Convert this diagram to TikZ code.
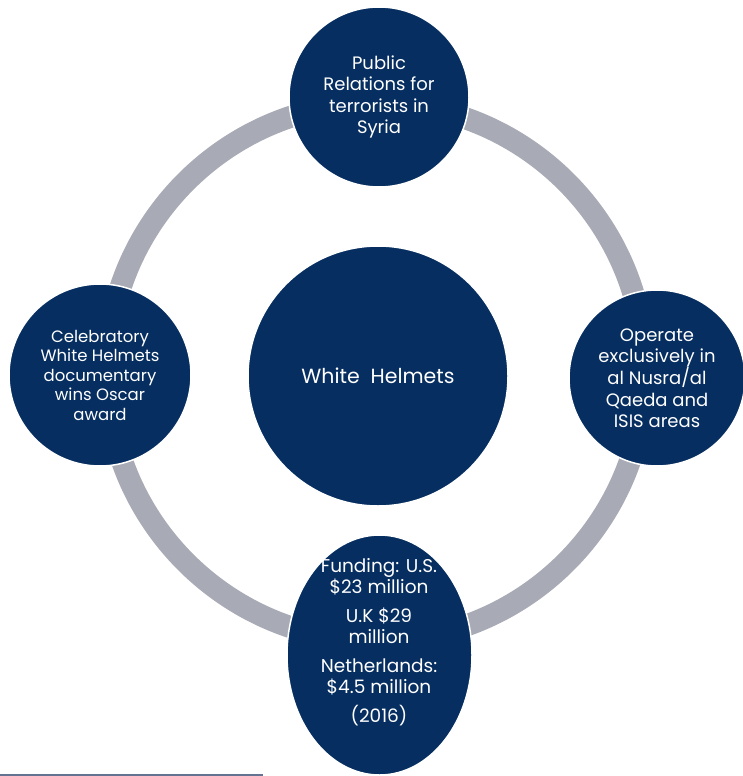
\documentclass[tikz,border=0pt]{standalone}
\usepackage{fontspec}
\setmainfont{Poppins}
\usetikzlibrary{shapes.geometric}
\definecolor{navy}{RGB}{6,46,96}
\definecolor{ringgray}{RGB}{168,170,181}
\definecolor{lineblue}{RGB}{100,115,145}
\begin{document}
\begin{tikzpicture}[x=1pt,y=-1pt,
  bubble/.style={circle, fill=navy, draw=white, line width=1.5pt, text=white, align=center, inner sep=0pt},
  bodytext/.style={text=white, align=center, font=\fontsize{18}{21.2}\selectfont},
  smalltext/.style={text=white, align=center, font=\fontsize{16.5}{19.5}\selectfont}]
\useasboundingbox (0,0) rectangle (743,776);
\coordinate (ringc) at (376,372);
\draw[ringgray, line width=22pt] (ringc) circle[radius=269];
\node[bubble, minimum size=260pt, font=\fontsize{20.5}{24}\selectfont] (center) at (378,376) {White\ \ Helmets};
\node[bubble, minimum size=180pt, bodytext] (top) at (379,97) {Public\\Relations for\\terrorists in\\Syria};
\node[bubble, minimum size=182pt, smalltext] (left) at (100,375) {Celebratory\\White Helmets\\documentary\\wins Oscar\\award};
\node[bubble, minimum size=176pt, bodytext] (right) at (657,378) {Operate\\exclusively in\\al Nusra/al\\Qaeda and\\ISIS areas};
\node[ellipse, fill=navy, draw=white, line width=1.5pt, minimum width=185pt, minimum height=240pt, inner sep=0pt] (bottom) at (379.5,655) {};
\node[text=white, align=center, font=\fontsize{18.5}{21}\selectfont] (fund) at (379,642) {Funding: U.S.\\\$23 million\\[8pt]U.K \$29\\million\\[8pt]Netherlands:\\\$4.5 million\\[8pt](2016)};
\coordinate (lineA) at (0,775);
\coordinate (lineB) at (263,775);
\draw[lineblue, line width=1.5pt] (lineA) -- (lineB);
\end{tikzpicture}
\end{document}
